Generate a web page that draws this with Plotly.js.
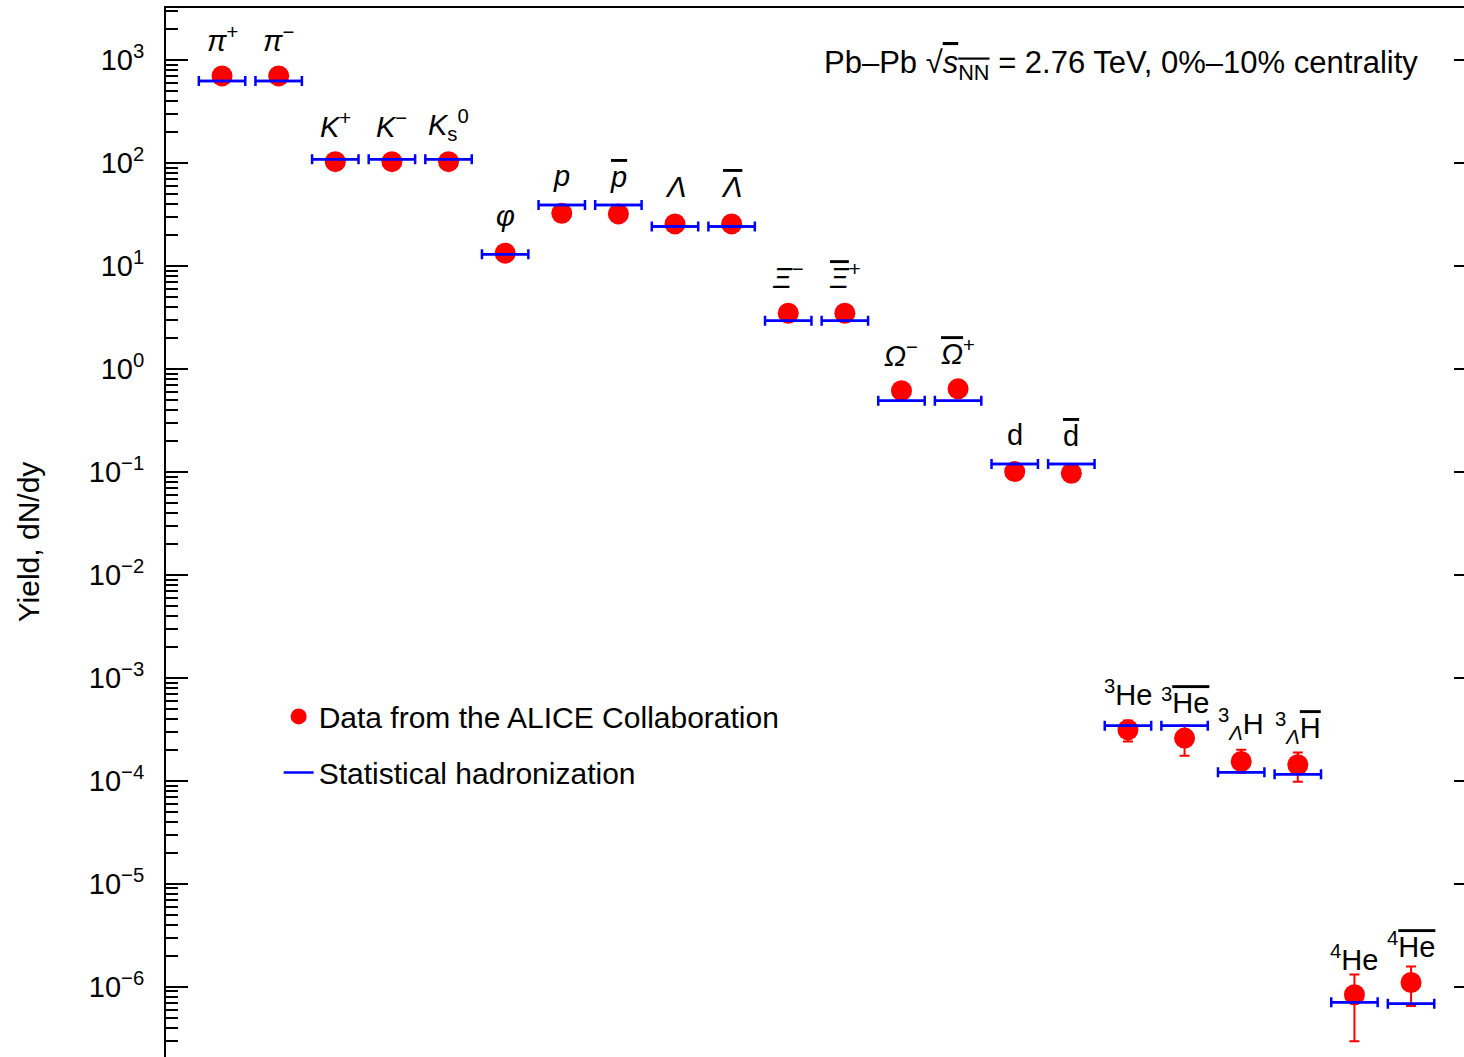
<!DOCTYPE html>
<html>
<head>
<meta charset="utf-8">
<script src="https://cdn.plot.ly/plotly-3.0.1.min.js"></script>
<style>
html, body { margin: 0; padding: 0; overflow: hidden; background: #fff; }
#chart { width: 1480px; height: 1080px; }
</style>
</head>
<body>
<div id="chart"></div>
<script>
// ---- Data ----
var OL = function (s) { return '<span style="text-decoration:overline">' + s + '</span>'; };

var particleLabels = [
  '<i>π</i><sup>+</sup>', '<i>π</i><sup>−</sup>',
  '<i>K</i><sup>+</sup>', '<i>K</i><sup>−</sup>', '<i>K</i><sub>s</sub><sup>0</sup>',
  '<i>φ</i>', '<i>p</i>', OL('<i>p</i>'),
  '<i>Λ</i>', OL('<i>Λ</i>'),
  '<i>Ξ</i><sup>−</sup>', OL('<i>Ξ</i>') + '<sup>+</sup>',
  '<i>Ω</i><sup>−</sup>', OL('<i>Ω</i>') + '<sup>+</sup>',
  'd', OL('d'),
  '<sup>3</sup>He', '<sup>3</sup>' + OL('He'),
  '<sup>3</sup><sub><i>Λ</i></sub>H', '<sup>3</sup><sub><i>Λ</i></sub>' + OL('H'),
  '<sup>4</sup>He', '<sup>4</sup>' + OL('He')
];

var categoryIndex = [1, 2, 3, 4, 5, 6, 7, 8, 9, 10, 11, 12, 13, 14, 15, 16, 17, 18, 19, 20, 21, 22];

var dataYield = [700, 700, 103, 103, 103, 13.3, 32.5, 32, 25.6, 25.6, 3.47, 3.47,
                 0.615, 0.64, 0.1007, 0.097, 3.13e-4, 2.60e-4, 1.54e-4, 1.43e-4, 8.35e-7, 1.10e-6];
var dataErrUp = [0, 0, 0, 0, 0, 0, 0, 0, 0, 0, 0, 0, 0, 0, 0, 0,
                 0.72e-4, 0.85e-4, 0.46e-4, 0.45e-4, 0.48e-6, 0.47e-6];
var dataErrDown = [0, 0, 0, 0, 0, 0, 0, 0, 0, 0, 0, 0, 0, 0, 0, 0,
                   0.72e-4, 0.85e-4, 0.34e-4, 0.45e-4, 0.54e-6, 0.45e-6];

var modelYield = [625, 625, 108.7, 108.7, 108.7, 13.0, 39.1, 39.1, 24.1, 24.1, 2.94, 2.94,
                  0.49, 0.49, 0.119, 0.119, 3.42e-4, 3.42e-4, 1.21e-4, 1.16e-4, 7.05e-7, 6.85e-7];

var yTickVals = [1e3, 1e2, 1e1, 1e0, 1e-1, 1e-2, 1e-3, 1e-4, 1e-5, 1e-6];
var yTickText = ['10<sup>3</sup>', '10<sup>2</sup>', '10<sup>1</sup>', '10<sup>0</sup>',
                 '10<sup>−1</sup>', '10<sup>−2</sup>', '10<sup>−3</sup>', '10<sup>−4</sup>',
                 '10<sup>−5</sup>', '10<sup>−6</sup>'];

// ---- Styles ----
var FONT = 'Liberation Sans, Arial, sans-serif';
var HALF_WIDTH = 0.41; // half-length of the model bar, in category units

var segX = [], segY = [];
categoryIndex.forEach(function (c, k) {
  segX.push(c - HALF_WIDTH, c + HALF_WIDTH, null);
  segY.push(modelYield[k], modelYield[k], null);
});

var traces = [
  {
    type: 'scatter', mode: 'markers', name: 'Data from the ALICE Collaboration',
    x: categoryIndex, y: dataYield, legendgroup: 'a',
    marker: { color: '#ff0000', size: 21 },
    error_y: { type: 'data', symmetric: false, array: dataErrUp, arrayminus: dataErrDown,
               color: '#ff0000', thickness: 2, width: 5 },
    hoverinfo: 'x+y'
  },
  {
    type: 'scatter', mode: 'lines', name: 'Statistical hadronization',
    x: segX, y: segY, legendgroup: 'b', connectgaps: false,
    line: { color: '#0000ff', width: 2.5 },
    hoverinfo: 'skip'
  },
  {
    type: 'scatter', mode: 'markers', showlegend: false,
    x: categoryIndex, y: modelYield,
    marker: { color: 'rgba(0,0,255,0)', size: 2 },
    error_x: { type: 'constant', value: HALF_WIDTH, color: '#0000ff', thickness: 2.5, width: 5 },
    hoverinfo: 'skip'
  }
];

var annotations = categoryIndex.map(function (c, k) {
  return {
    x: c, y: Math.log10(dataYield[k]), xref: 'x', yref: 'y',
    text: particleLabels[k], showarrow: false,
    xanchor: 'center', yanchor: 'middle', yshift: 37,
    font: { family: FONT, size: 29, color: '#000' }
  };
});
annotations.push({
  xref: 'paper', yref: 'paper', x: 0.957, y: 0.947, xanchor: 'right', yanchor: 'middle',
  showarrow: false,
  text: 'Pb–Pb √' + OL('<i>s</i><sub>NN</sub>') + ' = 2.76 TeV, 0%–10% centrality',
  font: { family: FONT, size: 31, color: '#000' }
});

var layout = {
  width: 1480, height: 1080,
  margin: { l: 166, r: 4, t: 8, b: 4 },
  paper_bgcolor: '#fff', plot_bgcolor: '#fff',
  showlegend: true,
  legend: {
    x: 0.086, y: 0.361, xanchor: 'left', yanchor: 'top',
    bgcolor: 'rgba(0,0,0,0)', traceorder: 'grouped', tracegroupgap: 14,
    font: { family: FONT, size: 30, color: '#000' }
  },
  xaxis: {
    range: [0.01, 23.147], showgrid: false, zeroline: false,
    showline: true, mirror: true, linecolor: '#000', linewidth: 2,
    ticks: '', showticklabels: false
  },
  yaxis: {
    type: 'log', range: [-6.867, 3.505],
    showgrid: false, zeroline: false,
    showline: true, mirror: 'ticks', linecolor: '#000', linewidth: 2,
    tickmode: 'array', tickvals: yTickVals, ticktext: yTickText,
    ticks: 'inside', ticklen: 22, tickwidth: 2, tickcolor: '#000',
    ticklabelstandoff: 14,
    minor: { dtick: 'D1', ticks: 'inside', ticklen: 12, tickwidth: 2, tickcolor: '#000', showgrid: false },
    tickfont: { family: FONT, size: 29, color: '#000' },
    title: { text: 'Yield, dN/dy', standoff: 40, font: { family: FONT, size: 30, color: '#000' } }
  },
  annotations: annotations
};

Plotly.newPlot('chart', traces, layout, { displayModeBar: false, staticPlot: true });
</script>
</body>
</html>
